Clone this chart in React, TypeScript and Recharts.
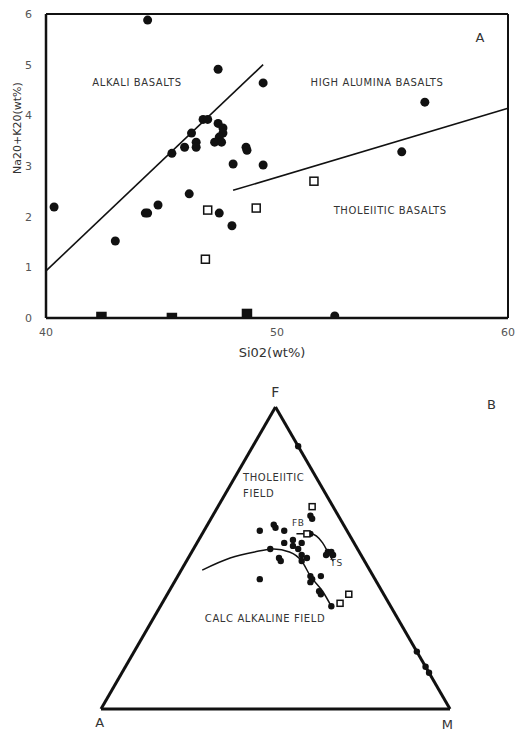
import { ScatterChart, Scatter, XAxis, YAxis, ReferenceLine, ReferenceDot } from 'recharts'

// panel A: SiO2 (wt%) vs Na2O+K2O (wt%)
const basaltDots: [number, number][] = [
  [44.4, 5.88], [47.45, 4.91], [49.4, 4.64], [56.4, 4.26],
  [46.8, 3.92], [47.0, 3.92], [47.45, 3.84], [47.66, 3.75], [47.66, 3.65], [47.5, 3.57],
  [47.3, 3.47], [47.6, 3.47], [46.3, 3.65], [46.5, 3.47], [46.5, 3.37], [46.0, 3.37],
  [45.45, 3.25], [48.1, 3.04], [48.66, 3.37], [48.7, 3.31], [49.4, 3.02], [55.4, 3.28],
  [40.35, 2.19], [43.0, 1.52], [44.3, 2.07], [44.4, 2.07], [44.85, 2.23], [46.2, 2.45],
  [47.5, 2.07], [48.05, 1.82], [52.5, 0.04],
]
const openSquares: [number, number][] = [[47.0, 2.13], [46.9, 1.16], [49.1, 2.17], [51.6, 2.7]]
const solidSquares: [number, number][] = [[42.4, 0.02], [45.45, 0.0], [48.7, 0.08]]
const alkaliLine: [number, number][] = [[40, 0.93], [49.4, 5.0]]
const tholeiiteLine: [number, number][] = [[48.1, 2.52], [60, 4.14]]
const sio2Ticks = [40, 50, 60]
const alkTicks = [0, 1, 2, 3, 4, 5, 6]

// panel B: AFM triangle, [A, F, M] in %
const afmDots: [number, number, number][] = [
  [8, 64, 28], [8, 63, 29], [20, 61, 19], [20, 60, 20], [25, 59, 16], [18, 59, 23],
  [11, 58, 31], [17, 56, 27], [15, 55, 30], [20, 55, 25], [18, 54, 28], [17, 53, 30],
  [25, 53, 22], [9, 52, 39], [8, 52, 40], [8, 51, 41], [10, 51, 39], [17, 51, 32],
  [16, 50, 34], [24, 50, 26], [24, 49, 27], [18, 49, 33], [33, 43, 24], [18, 44, 38],
  [18, 43, 39], [15, 44, 41], [19, 42, 39], [18, 39, 43], [18, 38, 44], [17, 34, 49],
  [0, 87, 13], [0, 19, 81], [0, 14, 86], [0, 12, 88],
]
const afmSquares: [number, number, number][] = [[6, 67, 27], [12, 58, 30], [10, 38, 52], [14, 35, 51]]
const calcAlkalineTrend: [number, number, number][] = [
  [48, 46, 6], [38, 50, 12], [30, 52, 18], [24, 53, 23], [20, 52, 28],
  [18, 49, 33], [18, 44, 38], [17, 39, 44], [17, 34, 49],
]
const tholeiiteTrend: [number, number, number][] = [[15, 58, 27], [11, 58, 31], [9, 55, 36], [9, 52, 39], [9, 49, 42]]
const corners: [number, number, number][] = [[100, 0, 0], [0, 100, 0], [0, 0, 100]]

const INK = '#111'
const FONT = 'DejaVu Sans'

const pt = ([x, y]: [number, number]) => ({ x, y })
const tern = ([a, f, m]: [number, number, number]) => {
  const s = a + f + m
  return { x: (m + f / 2) / s, y: f / s }
}

const dot = (r: number) => (p: any) => <circle cx={p.cx} cy={p.cy} r={r} fill={INK} />
const box = (h: number, fill: string) => (p: any) => (
  <rect x={p.cx - h} y={p.cy - h} width={h * 2} height={h * 2} fill={fill} stroke={INK} strokeWidth={1.5} />
)
const none = () => <g />

function Tag({ viewBox, text, anchor = 'middle', size = 10 }: any) {
  return (
    <text x={viewBox.x} y={viewBox.y} textAnchor={anchor} dominantBaseline="central"
      fontSize={size} fontFamily={FONT} fill="#333" letterSpacing={0.6}>
      {text}
    </text>
  )
}

function label(x: number, y: number, text: string, anchor = 'middle', size = 10) {
  return (
    <ReferenceDot x={x} y={y} r={0} ifOverflow="visible" stroke="none"
      label={<Tag text={text} anchor={anchor} size={size} />} />
  )
}

function PanelA() {
  return (
    <ScatterChart width={518} height={360} margin={{ top: 14, right: 10, bottom: 0, left: 0 }}
      style={{ fontFamily: FONT }}>
      <XAxis type="number" dataKey="x" domain={[40, 60]} ticks={sio2Ticks} allowDataOverflow
        height={42} axisLine={{ stroke: INK, strokeWidth: 2.5 }} tickLine={false} tickMargin={4}
        tick={{ fill: '#555', fontSize: 11 }}
        label={{ value: 'Si02(wt%)', position: 'insideBottom', offset: 3, fill: '#333', fontSize: 13, dx: -5 }} />
      <YAxis type="number" dataKey="y" domain={[0, 6]} ticks={alkTicks} allowDataOverflow
        width={46} axisLine={{ stroke: INK, strokeWidth: 2.5 }} tickLine={false} tickMargin={8}
        tick={{ fill: '#555', fontSize: 11 }}
        label={() => (
          <text x={17} y={128} transform="rotate(-90 17 128)" textAnchor="middle" dominantBaseline="central"
            fontSize={11} fontFamily={FONT} fill="#333">Na20+K20(wt%)</text>
        )} />
      <ReferenceLine y={6} stroke={INK} strokeWidth={2} />
      <ReferenceLine x={60} stroke={INK} strokeWidth={2} />
      <ReferenceLine segment={alkaliLine.map(pt)} stroke={INK} strokeWidth={1.6} />
      <ReferenceLine segment={tholeiiteLine.map(pt)} stroke={INK} strokeWidth={1.6} />
      <Scatter data={basaltDots.map(pt)} shape={dot(4.5)} isAnimationActive={false} />
      <Scatter data={openSquares.map(pt)} shape={box(4, '#fff')} isAnimationActive={false} />
      <Scatter data={solidSquares.map(pt)} shape={box(4.5, INK)} isAnimationActive={false} />
      {label(43.94, 4.64, 'ALKALI BASALTS')}
      {label(54.33, 4.64, 'HIGH ALUMINA BASALTS')}
      {label(54.9, 2.13, 'THOLEIITIC BASALTS')}
      {label(58.8, 5.53, 'A', 'middle', 13)}
    </ScatterChart>
  )
}

function PanelB() {
  const v = corners.map(tern)
  return (
    <ScatterChart width={518} height={371} margin={{ top: 47, right: 68, bottom: 22, left: 101 }}
      style={{ fontFamily: FONT }}>
      <XAxis type="number" dataKey="x" domain={[0, 1]} hide allowDataOverflow />
      <YAxis type="number" dataKey="y" domain={[0, 1]} hide allowDataOverflow />
      <ReferenceLine segment={[v[0], v[1]]} stroke={INK} strokeWidth={3} ifOverflow="visible" />
      <ReferenceLine segment={[v[1], v[2]]} stroke={INK} strokeWidth={3} ifOverflow="visible" />
      <ReferenceLine segment={[v[0], v[2]]} stroke={INK} strokeWidth={3} ifOverflow="visible" />
      <Scatter data={calcAlkalineTrend.map(tern)} line={{ stroke: INK, strokeWidth: 1.5 }}
        lineJointType="monotoneX" shape={none} isAnimationActive={false} />
      <Scatter data={tholeiiteTrend.map(tern)} line={{ stroke: INK, strokeWidth: 1.5 }}
        lineJointType="monotoneX" shape={none} isAnimationActive={false} />
      <Scatter data={afmDots.map(tern)} shape={dot(3.2)} isAnimationActive={false} />
      <Scatter data={afmSquares.map(tern)} shape={box(3, '#fff')} isAnimationActive={false} />
      {label(0.407, 0.765, 'THOLEIITIC', 'start', 10)}
      {label(0.407, 0.715, 'FIELD', 'start', 10)}
      {label(0.47, 0.3, 'CALC  ALKALINE FIELD', 'middle', 10)}
      {label(0.565, 0.616, 'FB', 'middle', 9)}
      {label(0.675, 0.483, 'TS', 'middle', 9)}
      {label(0.5, 1.05, 'F', 'middle', 14)}
      {label(-0.003, -0.045, 'A', 'middle', 13)}
      {label(0.993, -0.05, 'M', 'middle', 13)}
      {label(1.12, 1.007, 'B', 'middle', 13)}
    </ScatterChart>
  )
}

export default function App() {
  return (
    <div style={{ position: 'absolute', left: 0, top: 0, width: 518, height: 731, background: '#fff' }}>
      <PanelA />
      <PanelB />
    </div>
  )
}
